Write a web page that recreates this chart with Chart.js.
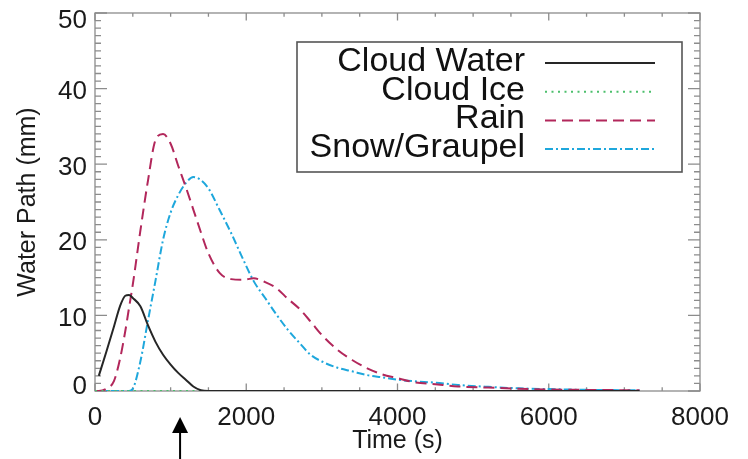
<!DOCTYPE html>
<html>
<head>
<meta charset="utf-8">
<script src="https://cdn.jsdelivr.net/npm/chart.js@4.4.1/dist/chart.umd.min.js"></script>
<style>
  html, body { margin: 0; padding: 0; background: #fff; }
  #wrap { width: 748px; height: 459px; }
</style>
</head>
<body>
<div id="wrap"><canvas id="myChart" width="748" height="459"></canvas></div>
<script>
// temps (s) commun à toutes les séries
const times = [0, 50, 150, 250, 330, 400, 450, 500, 600, 700, 800, 900, 1000, 1100, 1200, 1300, 1400, 1500,
  1650, 1800, 1950, 2100, 2250, 2400, 2550, 2700, 2850, 3000, 3200, 3400, 3600, 3800, 4000, 4200,
  4500, 4800, 5200, 5600, 6000, 6400, 6800, 7200];

// valeurs (mm)
const cloudWater = [null, 2.0, 5.2, 8.5, 11.2, 12.6, 12.7, 12.3, 11.2, 8.7, 6.5, 4.8, 3.5, 2.4, 1.5, 0.6, 0.1, 0,
  0, 0, 0, 0, 0, 0, 0, 0, 0, 0, 0, 0, 0, 0, 0, 0,
  0, 0, 0, 0, 0, 0, 0, 0];
const cloudIce = [0, 0, 0, 0, 0, 0, 0, 0, 0, 0, 0, 0, 0, 0, 0, 0, 0, 0,
  0, 0, 0, 0, 0, 0, 0, 0, 0, 0, 0, 0, 0, 0, 0, 0,
  0, 0, 0, 0, 0, 0, 0, 0];
const rain = [0, 0, 0.3, 1.3, 4.2, 7.9, 11.0, 14.1, 21.2, 27.8, 33.2, 34.0, 32.7, 29.8, 27.0, 24.0, 21.0, 18.2,
  15.6, 14.8, 14.7, 14.9, 14.4, 13.6, 12.2, 10.9, 9.2, 7.4, 5.5, 4.1, 3.0, 2.2, 1.7, 1.2,
  0.9, 0.6, 0.45, 0.3, 0.2, 0.15, 0.12, 0.1];
const snow = [0, 0, 0, 0, 0, 0, 0, 0.3, 3.9, 9.3, 14.6, 20.0, 23.6, 25.9, 27.5, 28.3, 27.9, 26.8,
  23.9, 20.9, 17.6, 14.5, 12.3, 10.1, 8.1, 6.4, 4.8, 3.9, 3.1, 2.6, 2.1, 1.8, 1.5, 1.3,
  1.1, 0.8, 0.55, 0.35, 0.25, 0.17, 0.12, 0.1];

const seriesNames = ['Cloud Water', 'Cloud Ice', 'Rain', 'Snow/Graupel'];
const xTicks = [0, 2000, 4000, 6000, 8000];
const yTicks = [0, 10, 20, 30, 40, 50];
const arrowTime = 1125; // flèche sous l'axe des temps

const FONT = '"Liberation Sans", Arial, sans-serif';
const AXIS_GREY = '#8c8c8c';

function toPoints(values) {
    return times.map(function(t, i) { return { x: t, y: values[i] }; });
}

const styles = [
    { color: '#262626', dash: [] },
    { color: '#4cbf6c', dash: [2, 4.5] },
    { color: '#b2275b', dash: [11, 6] },
    { color: '#1ea7dc', dash: [8, 3, 2, 3] }
];
const allValues = [cloudWater, cloudIce, rain, snow];

const datasets = seriesNames.map(function(name, i) {
    return {
        label: name,
        data: toPoints(allValues[i]),
        borderColor: styles[i].color,
        borderDash: styles[i].dash,
        borderWidth: 2,
        pointRadius: 0,
        fill: false,
        cubicInterpolationMode: 'monotone',
        spanGaps: true
    };
});

// cadre, graduations internes, étiquettes, légende et flèche
const framePlugin = {
    id: 'frame',
    beforeDatasetsDraw(chart) {
        const ctx = chart.ctx;
        const a = chart.chartArea;
        const xs = chart.scales.x, ys = chart.scales.y;
        ctx.save();
        ctx.strokeStyle = AXIS_GREY;
        ctx.lineWidth = 1.3;
        ctx.strokeRect(a.left, a.top, a.right - a.left, a.bottom - a.top);
        ctx.beginPath();
        for (let v = 0; v <= 8000; v += 500) {
            const px = xs.getPixelForValue(v);
            const len = (v % 2000 === 0) ? 7.5 : 3.8;
            ctx.moveTo(px, a.bottom); ctx.lineTo(px, a.bottom - len);
            ctx.moveTo(px, a.top); ctx.lineTo(px, a.top + len);
        }
        for (let v = 0; v <= 50; v += 1) {
            const py = ys.getPixelForValue(v);
            const len = (v % 10 === 0) ? 12 : 6;
            ctx.moveTo(a.left, py); ctx.lineTo(a.left + len, py);
            ctx.moveTo(a.right, py); ctx.lineTo(a.right - len, py);
        }
        ctx.stroke();
        ctx.restore();
    },
    afterDraw(chart) {
        const ctx = chart.ctx;
        const a = chart.chartArea;
        const xs = chart.scales.x, ys = chart.scales.y;
        ctx.save();
        ctx.fillStyle = '#1a1a1a';
        ctx.font = '26px ' + FONT;

        // étiquettes de l'axe y (les extrêmes sont rentrés comme dans IDL)
        ctx.textAlign = 'right';
        ctx.textBaseline = 'alphabetic';
        yTicks.forEach(function(v, i) {
            let shift = 1.5;
            if (i === 0) shift = -6;
            if (i === yTicks.length - 1) shift = 6;
            ctx.fillText(String(v), a.left - 8, ys.getPixelForValue(v) + shift + 9);
        });

        // étiquettes de l'axe x
        ctx.textAlign = 'center';
        xTicks.forEach(function(v) {
            ctx.fillText(String(v), xs.getPixelForValue(v), a.bottom + 34);
        });

        // légende
        const box = { left: 297, top: 42, right: 682, bottom: 172 };
        ctx.strokeStyle = '#555';
        ctx.lineWidth = 1.6;
        ctx.strokeRect(box.left, box.top, box.right - box.left, box.bottom - box.top);
        ctx.font = '34px ' + FONT;
        ctx.textAlign = 'right';
        seriesNames.forEach(function(name, i) {
            const base = 71 + i * 28.7;
            ctx.fillStyle = '#111';
            ctx.fillText(name, 525, base);
            ctx.beginPath();
            ctx.setLineDash(styles[i].dash);
            ctx.strokeStyle = styles[i].color;
            ctx.lineWidth = 2;
            ctx.moveTo(545, base - 8);
            ctx.lineTo(655, base - 8);
            ctx.stroke();
        });
        ctx.setLineDash([]);

        // flèche
        const ax = xs.getPixelForValue(arrowTime);
        ctx.fillStyle = '#000';
        ctx.strokeStyle = '#000';
        ctx.lineWidth = 2;
        ctx.beginPath();
        ctx.moveTo(ax, 430); ctx.lineTo(ax, 459);
        ctx.stroke();
        ctx.beginPath();
        ctx.moveTo(ax, 417); ctx.lineTo(ax - 8, 433); ctx.lineTo(ax + 8, 433);
        ctx.closePath();
        ctx.fill();
        ctx.restore();
    }
};

const ctx = document.getElementById('myChart').getContext('2d');
new Chart(ctx, {
    type: 'line',
    data: { datasets: datasets },
    plugins: [framePlugin],
    options: {
        responsive: false,
        animation: false,
        layout: { padding: { top: 13, right: 48, left: 0, bottom: 0 } },
        plugins: { legend: { display: false }, tooltip: { enabled: false } },
        scales: {
            x: {
                type: 'linear',
                min: 0,
                max: 8000,
                grid: { display: false },
                border: { display: false },
                ticks: { display: false },
                title: { display: true, text: 'Time (s)', color: '#1a1a1a', font: { family: FONT, size: 25 }, padding: { top: 0, bottom: 3 } },
                afterFit: function(scale) { scale.height = 68; }
            },
            y: {
                min: 0,
                max: 50,
                grid: { display: false },
                border: { display: false },
                ticks: { display: false },
                title: { display: true, text: 'Water Path (mm)', color: '#1a1a1a', font: { family: FONT, size: 25 }, padding: { top: 13, bottom: 0 } },
                afterFit: function(scale) { scale.width = 95; }
            }
        }
    }
});
</script>
</body>
</html>
